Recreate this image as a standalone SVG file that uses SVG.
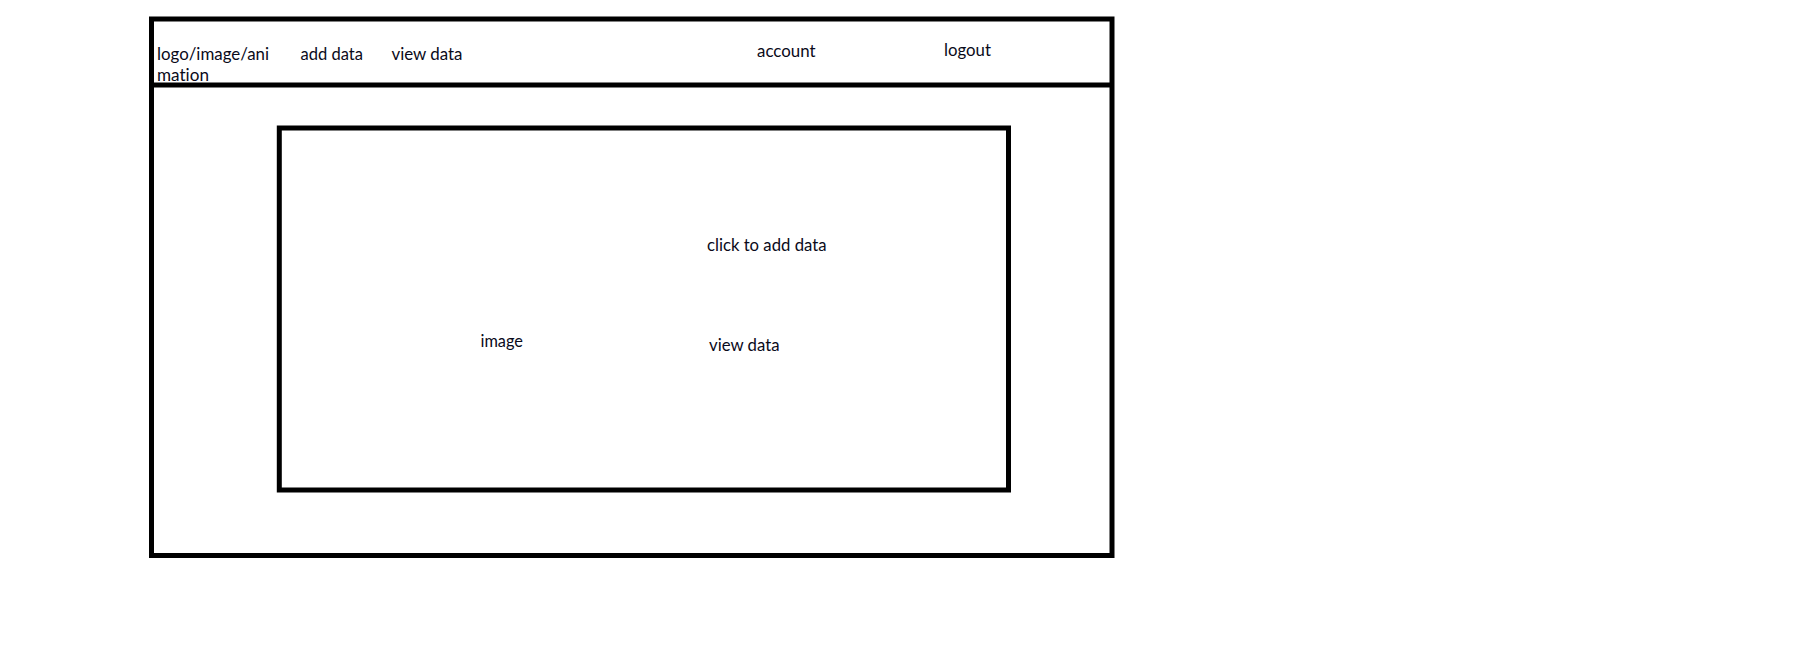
<svg xmlns="http://www.w3.org/2000/svg" width="1807" height="648" viewBox="0 0 1807 648">
<style>
.box{fill:none;stroke:#000;stroke-width:5}
.t{font-family:Lato,"Liberation Sans",sans-serif;font-size:16.5px;fill:#0a0a1a;font-variant-ligatures:none}
</style>
<rect x="0" y="0" width="1807" height="648" fill="#fff"/>
<g id="page">
<rect class="box" x="151.5" y="19" width="960.5" height="536.5"/>
</g>
<g id="header">
<line class="box" x1="151.5" y1="85" x2="1112" y2="85"/>
<text class="t" x="157" y="60" textLength="112" lengthAdjust="spacingAndGlyphs">logo/image/ani</text>
<text class="t" x="157" y="81" textLength="52" lengthAdjust="spacingAndGlyphs">mation</text>
<text class="t" x="300.5" y="60" textLength="62.5" lengthAdjust="spacingAndGlyphs">add data</text>
<text class="t" x="391.5" y="60" textLength="71" lengthAdjust="spacingAndGlyphs">view data</text>
<text class="t" x="757" y="57" textLength="58.5" lengthAdjust="spacingAndGlyphs">account</text>
<text class="t" x="944" y="56" textLength="47" lengthAdjust="spacingAndGlyphs">logout</text>
</g>
<g id="content">
<rect class="box" x="279.3" y="128" width="729.2" height="362"/>
<text class="t" x="707" y="251" textLength="119.5" lengthAdjust="spacingAndGlyphs">click to add data</text>
<text class="t" x="709" y="351" textLength="70.5" lengthAdjust="spacingAndGlyphs">view data</text>
<text class="t" x="480.5" y="347" textLength="42.5" lengthAdjust="spacingAndGlyphs">image</text>
</g>
<g id="connectors"></g>
</svg>
